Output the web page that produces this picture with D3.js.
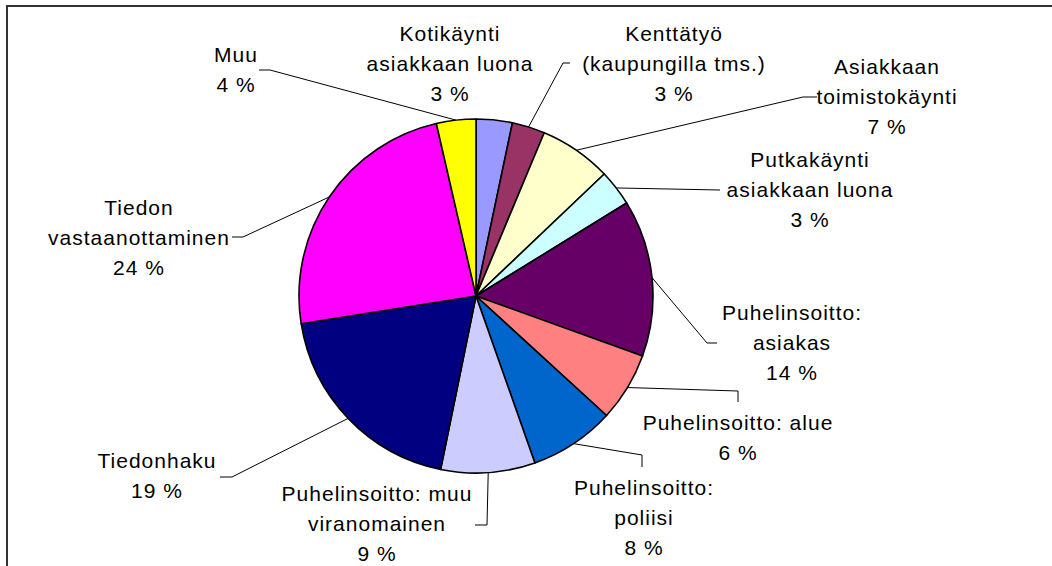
<!DOCTYPE html>
<html>
<head>
<meta charset="utf-8">
<script src="https://d3js.org/d3.v7.min.js"></script>
<style>
  body { margin: 0; background: #fff; }
  text { font-family: 'Liberation Sans', Arial, sans-serif; font-size: 21px; fill: #000; letter-spacing: 1px; }
</style>
</head>
<body>
<div id="chart"></div>
<script>
// slice names, split in lines as in the labels
var categories = [
  ["Kotikäynti", "asiakkaan luona"],
  ["Kenttätyö", "(kaupungilla tms.)"],
  ["Asiakkaan", "toimistokäynti"],
  ["Putkakäynti", "asiakkaan luona"],
  ["Puhelinsoitto:", "asiakas"],
  ["Puhelinsoitto: alue"],
  ["Puhelinsoitto:", "poliisi"],
  ["Puhelinsoitto: muu", "viranomainen"],
  ["Tiedonhaku"],
  ["Tiedon", "vastaanottaminen"],
  ["Muu"]
];
// shares in percent
var values = [3.3, 3.0, 6.6, 3.3, 14.3, 6.3, 7.8, 8.6, 19.3, 23.9, 3.6];
var colors = ["#9999FF", "#993366", "#FFFFCC", "#CCFFFF", "#660066", "#FF8080",
              "#0066CC", "#CCCCFF", "#000080", "#FF00FF", "#FFFF00"];

// label layout: text centre x, first line y, leader bends
var labelLayout = [
  { x: 450, y: 33, leader: null },
  { x: 674, y: 33, leader: [[563, 63], [570, 63]] },
  { x: 887, y: 66, leader: [[803, 97], [817, 97]] },
  { x: 810, y: 159, leader: [[720, 190]] },
  { x: 792, y: 312, leader: [[707, 343], [717, 343]] },
  { x: 738, y: 422, leader: [[738, 391], [738, 402]] },
  { x: 644, y: 487, leader: [[642, 455], [642, 467]] },
  { x: 377, y: 493, leader: [[487, 525], [475, 525]] },
  { x: 157, y: 460, leader: [[232, 477], [220, 477]] },
  { x: 139, y: 207, leader: [[243, 237], [232, 237]] },
  { x: 236, y: 54, leader: [[270, 70], [259, 70]] }
];

var W = 1052, H = 566, cx = 476, cy = 296, r = 177, lineH = 30;

var svg = d3.select("#chart").append("svg")
  .attr("width", W).attr("height", H);

// frame (left and top edge of the chart area)
svg.append("line").attr("x1", 7).attr("y1", 6).attr("x2", W).attr("y2", 6)
  .attr("stroke", "#333").attr("stroke-width", 2);
svg.append("line").attr("x1", 7).attr("y1", 5).attr("x2", 7).attr("y2", H)
  .attr("stroke", "#333").attr("stroke-width", 2);

var data = values.map(function (v, i) {
  return { name: categories[i], value: v, color: colors[i], layout: labelLayout[i] };
});

var pie = d3.pie().sort(null).value(function (d) { return d.value; });
var arc = d3.arc().innerRadius(0).outerRadius(r);
var edge = d3.arc().innerRadius(r).outerRadius(r);

var g = svg.append("g").attr("transform", "translate(" + cx + "," + cy + ")");
var arcs = pie(data);

g.selectAll("path.slice")
  .data(arcs)
  .enter().append("path")
  .attr("class", "slice")
  .attr("d", arc)
  .attr("fill", function (d) { return d.data.color; })
  .attr("stroke", "#000")
  .attr("stroke-width", 1.6)
  .attr("stroke-linejoin", "round");

// leader lines
var line = d3.line();
svg.selectAll("path.leader")
  .data(arcs.filter(function (d) { return d.data.layout.leader; }))
  .enter().append("path")
  .attr("class", "leader")
  .attr("d", function (d) {
    var c = edge.centroid(d);
    var pts = [[cx + c[0], cy + c[1]]].concat(d.data.layout.leader);
    return line(pts);
  })
  .attr("fill", "none")
  .attr("stroke", "#000")
  .attr("stroke-width", 1);

// labels
var labels = svg.selectAll("text.lbl")
  .data(arcs)
  .enter().append("text")
  .attr("class", "lbl")
  .attr("text-anchor", "middle")
  .attr("dominant-baseline", "central");

labels.each(function (d) {
  var t = d3.select(this);
  var lines = d.data.name.concat([Math.round(d.data.value) + " %"]);
  lines.forEach(function (s, i) {
    t.append("tspan")
      .attr("x", d.data.layout.x)
      .attr("y", d.data.layout.y + i * lineH)
      .text(s);
  });
});
</script>
</body>
</html>
